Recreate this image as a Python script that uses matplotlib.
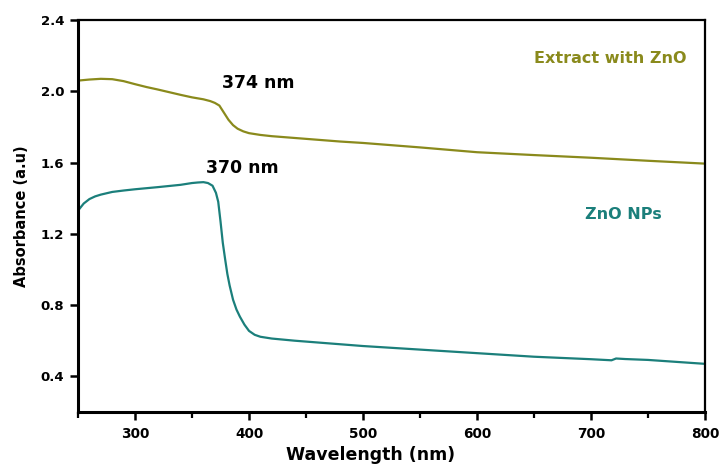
import matplotlib
matplotlib.use("Agg")
import matplotlib.pyplot as plt
from matplotlib.ticker import MultipleLocator, FormatStrFormatter

# Extract with ZnO (olive curve)
wl_extract = [250, 260, 270, 280, 290, 300, 310, 320, 330, 340, 350, 360, 366, 370,
              374, 378, 382, 386, 390, 395, 400, 410, 420, 440, 460, 480, 500, 550,
              600, 650, 700, 750, 800]
abs_extract = [2.06, 2.066, 2.07, 2.068, 2.057, 2.04, 2.024, 2.01, 1.995, 1.98, 1.966,
               1.955, 1.945, 1.935, 1.92, 1.88, 1.84, 1.81, 1.79, 1.775, 1.765, 1.755,
               1.748, 1.738, 1.728, 1.718, 1.71, 1.685, 1.658, 1.642, 1.627, 1.61, 1.594]

# ZnO NPs (teal curve)
wl_nps = [250, 255, 260, 265, 270, 280, 290, 300, 320, 340, 350, 355, 360, 364, 368,
          371, 373, 375, 377, 379, 381, 383, 386, 389, 392, 396, 400, 405, 410, 420,
          440, 460, 480, 500, 550, 600, 650, 700, 718, 722, 730, 750, 800]
abs_nps = [1.33, 1.37, 1.395, 1.41, 1.42, 1.435, 1.443, 1.45, 1.462, 1.475, 1.485,
           1.488, 1.49, 1.485, 1.47, 1.43, 1.38, 1.27, 1.15, 1.06, 0.975, 0.91, 0.83,
           0.775, 0.735, 0.69, 0.655, 0.633, 0.622, 0.612, 0.6, 0.59, 0.58, 0.57, 0.55,
           0.53, 0.51, 0.496, 0.49, 0.5, 0.497, 0.492, 0.47]

olive = "#8a8a1c"
teal = "#1b7f7b"

plt.rcParams["font.family"] = ["DejaVu Sans"]
plt.rcParams["font.weight"] = "bold"

fig = plt.figure(figsize=(7.19, 4.66), dpi=100)
ax = fig.add_axes([0.1085, 0.116, 0.872, 0.841])

ax.plot(wl_extract, abs_extract, color=olive, lw=1.6)
ax.plot(wl_nps, abs_nps, color=teal, lw=1.6)

ax.text(408, 2.045, "374 nm", fontsize=12.5, fontweight="bold", ha="center", va="center")
ax.text(394, 1.57, "370 nm", fontsize=12.5, fontweight="bold", ha="center", va="center")
ax.text(717, 2.186, "Extract with ZnO", color=olive, fontsize=11.5, fontweight="bold",
        ha="center", va="center")
ax.text(728, 1.31, "ZnO NPs", color=teal, fontsize=11.5, fontweight="bold",
        ha="center", va="center")

ax.set_xlim(250, 800)
ax.set_ylim(0.2, 2.4)
ax.xaxis.set_major_locator(MultipleLocator(100))
ax.xaxis.set_minor_locator(MultipleLocator(50))
ax.yaxis.set_major_locator(MultipleLocator(0.4))
ax.yaxis.set_major_formatter(FormatStrFormatter("%.1f"))

ax.set_xlabel("Wavelength (nm)", fontsize=12.5, fontweight="bold")
ax.xaxis.set_label_coords(0.467, -0.086)
ax.set_ylabel("Absorbance (a.u)", fontsize=10.5, fontweight="bold", labelpad=8)

for side in ["left", "bottom"]:
    ax.spines[side].set_linewidth(2.2)
for side in ["top", "right"]:
    ax.spines[side].set_linewidth(1.6)

ax.tick_params(axis="both", which="major", direction="out", length=6, width=1.8)
ax.tick_params(axis="x", which="minor", direction="out", length=4, width=1.6)
ax.tick_params(axis="x", labelsize=9.8, pad=5)
ax.tick_params(axis="y", labelsize=9.5, pad=4)
for lab in ax.get_xticklabels() + ax.get_yticklabels():
    lab.set_fontweight("bold")

fig.savefig("out.png", dpi=100)
